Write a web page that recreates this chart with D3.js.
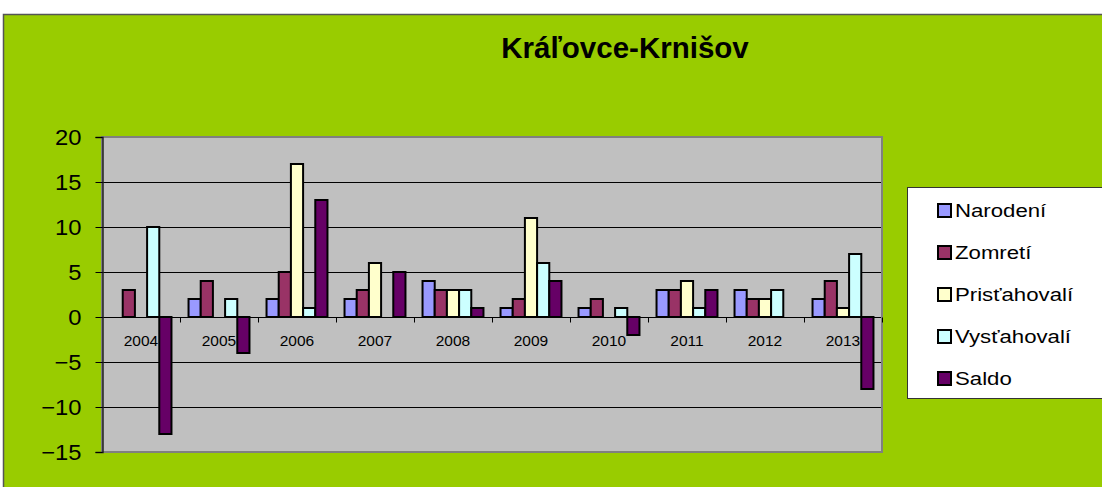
<!DOCTYPE html>
<html>
<head>
<meta charset="utf-8">
<script src="https://cdn.jsdelivr.net/npm/d3@7"></script>
<style>
  body { margin: 0; background: #fff; }
  text { font-family: Arial, "Liberation Sans", sans-serif; }
</style>
</head>
<body>
<div id="chart"></div>
<script>
// data
var years = ["2004", "2005", "2006", "2007", "2008", "2009", "2010", "2011", "2012", "2013"];
var seriesNames = ["Narodení", "Zomretí", "Prisťahovalí", "Vysťahovalí", "Saldo"];
var narodeni     = [0, 2, 2, 2, 4, 1, 1, 3, 3, 2];
var zomreti      = [3, 4, 5, 3, 3, 2, 2, 3, 2, 4];
var pristahovali = [0, 0, 17, 6, 3, 11, 0, 4, 2, 1];
var vystahovali  = [10, 2, 1, 0, 3, 6, 1, 1, 3, 7];
var saldo        = [-13, -4, 13, 5, 1, 4, -2, 3, 0, -8];
var yTicks = [-15, -10, -5, 0, 5, 10, 15, 20];

var seriesValues = [narodeni, zomreti, pristahovali, vystahovali, saldo];
var colors = ["#9999ff", "#993366", "#ffffcc", "#ccffff", "#660066"];

var width = 1102, height = 487;

var svg = d3.select("#chart").append("svg")
  .attr("width", width)
  .attr("height", height);

// chart background
svg.append("rect")
  .attr("x", 3.5).attr("y", 14.5)
  .attr("width", width).attr("height", height)
  .attr("fill", "#99cc00")
  .attr("stroke", "#555").attr("stroke-width", 1.5);

// title
svg.append("text")
  .attr("x", 625).attr("y", 58)
  .attr("text-anchor", "middle")
  .attr("font-size", 29.5).attr("font-weight", "bold")
  .text("Kráľovce-Krnišov");

var plot = { left: 102, right: 882, top: 137, bottom: 452 };

var x = d3.scaleBand().domain(years).range([plot.left, plot.right]).paddingInner(0).paddingOuter(0);
var xs = d3.scaleBand().domain(seriesNames).range([0, x.bandwidth()]).paddingInner(0).paddingOuter(0.7);
var y = d3.scaleLinear().domain([-15, 20]).range([plot.bottom, plot.top]);

// plot area
svg.append("rect")
  .attr("x", plot.left).attr("y", plot.top)
  .attr("width", plot.right - plot.left).attr("height", plot.bottom - plot.top)
  .attr("fill", "#c0c0c0")
  .attr("stroke", "#808080").attr("stroke-width", 2);

// gridlines
svg.append("g").selectAll("line")
  .data(yTicks.filter(function(d) { return d !== -15 && d !== 20; }))
  .enter().append("line")
  .attr("x1", plot.left).attr("x2", plot.right - 1)
  .attr("y1", function(d) { return Math.round(y(d)) + 0.5; })
  .attr("y2", function(d) { return Math.round(y(d)) + 0.5; })
  .attr("stroke", "#000").attr("stroke-width", 1);

// y axis
var yAxis = d3.axisLeft(y).tickValues(yTicks).tickSize(7).tickPadding(14);
var gy = svg.append("g")
  .attr("transform", "translate(" + (plot.left + 0.5) + ",0)")
  .call(yAxis);
gy.select(".domain").attr("stroke", "#222").attr("stroke-width", 1.5);
gy.selectAll(".tick line").attr("stroke", "#000");
gy.selectAll(".tick text")
  .attr("font-size", 22).attr("fill", "#000")
  .attr("font-family", "Arial, 'Liberation Sans', sans-serif")
  .attr("transform", function() { return "translate(-21,0) scale(1.08,1) translate(21,0)"; });

// x category labels and ticks along zero line
var zeroY = Math.round(y(0)) + 0.5;
svg.append("g").selectAll("text")
  .data(years).enter().append("text")
  .attr("x", function(d) { return x(d) + x.bandwidth() / 2; })
  .attr("y", zeroY + 28)
  .attr("text-anchor", "middle")
  .attr("font-size", 15.5)
  .text(function(d) { return d; });

svg.append("g").selectAll("line")
  .data(years.slice(1).concat(["end"])).enter().append("line")
  .attr("x1", function(d, i) { return Math.round(plot.left + x.bandwidth() * (i + 1)) + 0.5; })
  .attr("x2", function(d, i) { return Math.round(plot.left + x.bandwidth() * (i + 1)) + 0.5; })
  .attr("y1", zeroY).attr("y2", zeroY + 5)
  .attr("stroke", "#000");

// bars
var bars = [];
seriesValues.forEach(function(vals, si) {
  vals.forEach(function(v, yi) {
    if (v !== 0) bars.push({ year: years[yi], series: seriesNames[si], value: v, color: colors[si] });
  });
});

svg.append("g").selectAll("rect")
  .data(bars).enter().append("rect")
  .attr("x", function(d) { return x(d.year) + xs(d.series); })
  .attr("y", function(d) { return y(Math.max(0, d.value)); })
  .attr("width", xs.bandwidth())
  .attr("height", function(d) { return Math.abs(y(d.value) - y(0)); })
  .attr("fill", function(d) { return d.color; })
  .attr("stroke", "#000").attr("stroke-width", 2);

// legend
var legend = svg.append("g");
legend.append("rect")
  .attr("x", 907.5).attr("y", 187.5)
  .attr("width", 210).attr("height", 211)
  .attr("fill", "#fff")
  .attr("stroke", "#333").attr("stroke-width", 1);

var items = legend.selectAll("g.item")
  .data(seriesNames).enter().append("g")
  .attr("class", "item")
  .attr("transform", function(d, i) { return "translate(938," + (210 + i * 42) + ")"; });

items.append("rect")
  .attr("x", 0).attr("y", -6)
  .attr("width", 13).attr("height", 13)
  .attr("fill", function(d, i) { return colors[i]; })
  .attr("stroke", "#000").attr("stroke-width", 2);

items.append("text")
  .attr("x", 0).attr("y", 7)
  .attr("font-size", 18.5)
  .attr("transform", "translate(17,0) scale(1.2,1)")
  .text(function(d) { return d; });
</script>
</body>
</html>
